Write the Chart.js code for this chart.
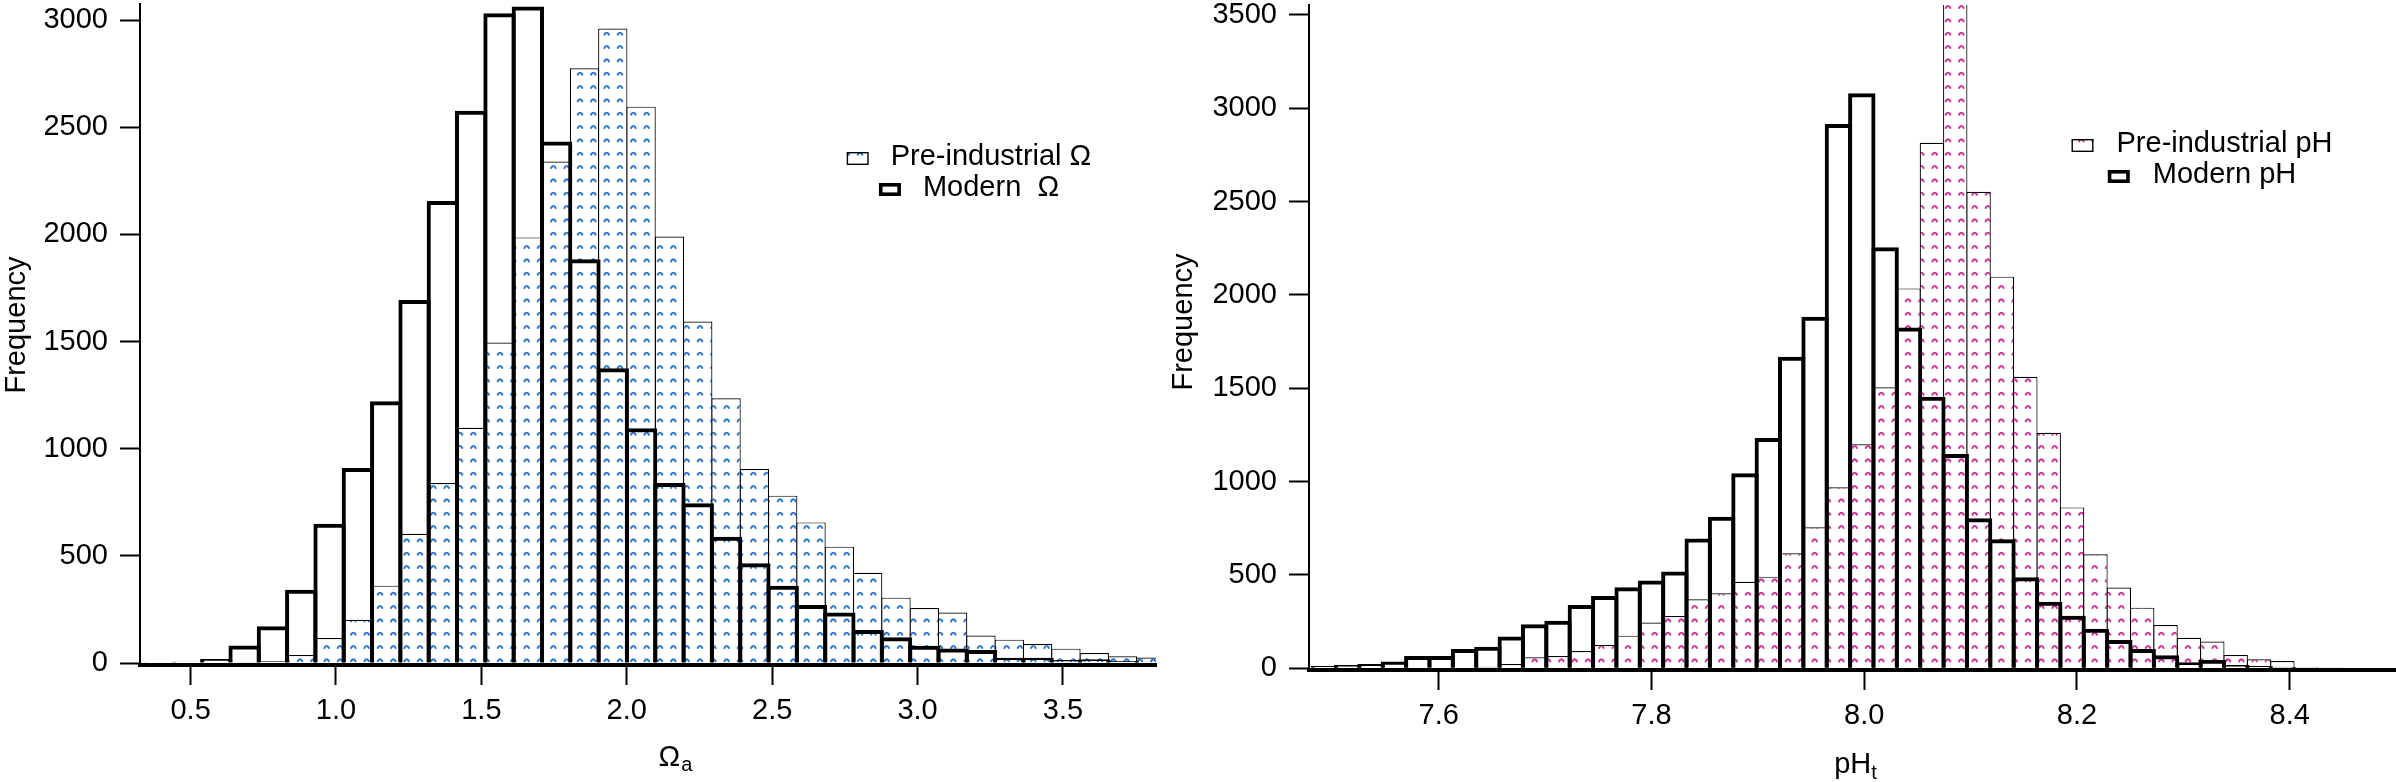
<!DOCTYPE html>
<html><head><meta charset="utf-8">
<script src="https://cdn.jsdelivr.net/npm/chart.js@4.4.1/dist/chart.umd.min.js"></script>
<style>
html,body{margin:0;padding:0;background:#fff;overflow:hidden;}
#wrap{position:relative;width:2396px;height:782px;background:#fff;}
canvas{position:absolute;top:0;}
#cL{left:0;width:1168px;height:782px;}
#cR{left:1168px;width:1228px;height:782px;}
</style></head><body>
<div id="wrap"><canvas id="cL" width="1168" height="782"></canvas><canvas id="cR" width="1228" height="782"></canvas></div>
<script>
// ---------- Data: aragonite saturation state (Omega_a) ----------
const omegaBinCenters = [0.2961,0.3935,0.4909,0.5883,0.6857,0.7831,0.8805,0.9779,1.0753,1.1727,1.2701,1.3675,1.4649,1.5623,1.6597,1.7571,1.8545,1.9519,2.0493,2.1467,2.2441,2.3415,2.4389,2.5363,2.6337,2.7311,2.8285,2.9259,3.0233,3.1207,3.2181,3.3155,3.4129,3.5103,3.6077,3.7051,3.8025];
const omegaPreIndustrial = [0,0,0,1,3,8,37,117,202,361,603,840,1098,1495,1986,2340,2775,2961,2596,1990,1593,1235,905,781,656,543,421,305,257,236,128,109,89,67,47,31,26];
const omegaModern = [3,4,6,19,82,171,342,650,910,1221,1694,2156,2577,3032,3063,2433,1884,1375,1095,840,745,589,465,361,271,236,154,120,81,68,61,25,25,14,17,9,6];
const omegaTickValues = [0.5,1.0,1.5,2.0,2.5,3.0,3.5];
const omegaFreqTicks = [0,500,1000,1500,2000,2500,3000];
const omegaLabels = ['Pre-industrial \u03A9', 'Modern  \u03A9'];
const omegaTitle = ['\u03A9', 'a'];

// ---------- Data: pH (total scale) ----------
const phBinCenters = [7.49239,7.51436,7.53633,7.55830,7.58027,7.60224,7.62421,7.64618,7.66815,7.69012,7.71209,7.73406,7.75603,7.77800,7.79997,7.82194,7.84391,7.86588,7.88785,7.90982,7.93179,7.95376,7.97573,7.99770,8.01967,8.04164,8.06361,8.08558,8.10755,8.12952,8.15149,8.17346,8.19543,8.21740,8.23937,8.26134,8.28331,8.30528,8.32725,8.34922,8.37119,8.39316,8.41513,8.43710,8.45907];
const phPreIndustrial = [0,0,0,0,0,0,3,8,23,59,66,93,125,175,245,280,370,402,464,491,616,755,970,1200,1505,2035,2815,3565,2553,2098,1562,1262,862,611,433,325,232,164,143,71,48,39,6,3,1];
const phModern = [12,18,23,36,66,66,104,116,170,236,255,339,388,434,470,518,696,812,1045,1234,1669,1883,2915,3080,2255,1826,1455,1148,804,691,488,357,282,212,152,104,70,32,45,18,12,8,5,4,3];
const phTickValues = [7.6,7.8,8.0,8.2,8.4];
const phFreqTicks = [0,500,1000,1500,2000,2500,3000,3500];
const phLabels = ['Pre-industrial pH', 'Modern pH'];
const phTitle = ['pH', 't'];
const freqTitle = 'Frequency';

const FAMILY = '"Liberation Sans", Arial, Helvetica, sans-serif';
Chart.defaults.font.family = FAMILY;
Chart.defaults.font.size = 29;
Chart.defaults.color = '#000';

function makePattern(color) {
  const c = document.createElement('canvas');
  c.width = 40; c.height = 40;
  const g = c.getContext('2d');
  g.fillStyle = '#ffffff'; g.fillRect(0, 0, 40, 40);
  g.strokeStyle = color; g.lineWidth = 2.1; g.lineCap = 'round'; g.lineJoin = 'round';
  for (let a = 0; a < 3; a++) for (let b = 0; b < 3; b++) {
    const cx = 6.67 + 13.33 * a, cy = 6.67 + 13.33 * b;
    g.beginPath();
    g.moveTo(cx - 2.3, cy + 1.3);
    g.quadraticCurveTo(cx, cy - 2.6, cx + 2.3, cy + 1.3);
    g.stroke();
  }
  return g.createPattern(c, 'repeat');
}

const histLegend = {
  id: 'histLegend',
  afterDraw(chart, args, o) {
    const ctx = chart.ctx;
    const ds = chart.data.datasets;
    ctx.save();
    ctx.font = o.fontSize + 'px ' + FAMILY;
    ctx.textBaseline = 'alphabetic';
    ctx.textAlign = 'left';
    const lines = [ds[1], ds[0]];
    lines.forEach((d, line) => {
      const tw = ctx.measureText(d.label).width;
      const total = o.boxW + o.gap + tw;
      const x0 = o.cx - total / 2;
      const base = o.baseline + line * o.lineGap;
      const by = base - o.boxH;
      if (line === 0) {
        ctx.fillStyle = d.backgroundColor;
        ctx.fillRect(x0, by, o.boxW, o.boxH);
        ctx.lineWidth = 1.4; ctx.strokeStyle = '#000';
        ctx.strokeRect(x0 + 0.7, by + 0.7, o.boxW - 1.4, o.boxH - 1.4);
      } else {
        ctx.fillStyle = '#fff';
        ctx.fillRect(x0, by, o.boxW, o.boxH);
        ctx.lineWidth = 3.6; ctx.strokeStyle = '#000';
        ctx.strokeRect(x0 + 1.8, by + 1.8, o.boxW - 3.6, o.boxH - 3.6);
      }
      ctx.fillStyle = '#000';
      ctx.fillText(d.label, x0 + o.boxW + o.gap, base);
    });
    ctx.restore();
  }
};

const axisTitles = {
  id: 'axisTitles',
  afterDraw(chart, args, o) {
    const ctx = chart.ctx;
    ctx.save();
    ctx.fillStyle = '#000';
    // x title with subscript
    ctx.textBaseline = 'alphabetic'; ctx.textAlign = 'left';
    const fm = o.size + 'px ' + FAMILY, fs = o.subSize + 'px ' + FAMILY;
    ctx.font = fm; const w1 = ctx.measureText(o.main).width;
    ctx.font = fs; const w2 = ctx.measureText(o.sub).width;
    const x0 = o.cx - (w1 + w2) / 2;
    ctx.font = fm; ctx.fillText(o.main, x0, o.baseline);
    ctx.font = fs; ctx.fillText(o.sub, x0 + w1 + o.subGap, o.baseline + o.subDrop);
    // y title, rotated
    ctx.translate(o.yx, o.yy);
    ctx.rotate(-Math.PI / 2);
    ctx.font = fm; ctx.textAlign = 'center'; ctx.textBaseline = 'alphabetic';
    ctx.fillText(o.yText, 0, 0);
    ctx.restore();
  }
};

function histConfig(p) {
  const pts = (vals) => p.bins.map((x, i) => ({ x: x, y: vals[i] }));
  return {
    type: 'bar',
    data: {
      datasets: [
        { label: p.labels[1], data: pts(p.modern), backgroundColor: 'rgba(0,0,0,0)', borderColor: '#000',
          borderWidth: 4, borderSkipped: 'start', barPercentage: p.modernPct, categoryPercentage: 1, grouped: false, clip: 0 },
        { label: p.labels[0], data: pts(p.pre), backgroundColor: p.pattern, borderColor: '#000',
          borderWidth: 1.2, borderSkipped: 'start', barPercentage: p.prePct, categoryPercentage: 1, grouped: false, clip: 0 }
      ]
    },
    options: {
      responsive: false,
      animation: false,
      events: [],
      layout: { padding: p.padding },
      plugins: {
        legend: { display: false },
        tooltip: { enabled: false },
        histLegend: p.legend,
        axisTitles: p.title
      },
      scales: {
        x: {
          type: 'linear', min: p.xMin, max: p.xMax, offset: false,
          afterBuildTicks: (s) => { s.ticks = p.xTicks.map(v => ({ value: v })); },
          afterFit: (s) => { s.height = p.xAxisH; s.paddingLeft = 0; s.paddingRight = 0; },
          ticks: { padding: 9, maxRotation: 0, autoSkip: false, callback: (v) => Number(v).toFixed(1), font: { size: 29 } },
          grid: { display: true, offset: false, drawOnChartArea: false, drawTicks: true, tickLength: 20, tickWidth: 2, tickColor: '#000', color: '#000' },
          border: { display: true, color: '#000', width: 4 }
        },
        y: {
          type: 'linear', min: p.yMin, max: p.yMax,
          afterBuildTicks: (s) => { s.ticks = p.yTicks.map(v => ({ value: v })); },
          afterFit: (s) => { s.width = p.yAxisW; s.paddingTop = 0; s.paddingBottom = 0; },
          ticks: { padding: 12, autoSkip: false, callback: (v) => String(v), font: { size: 29 } },
          grid: { display: true, drawOnChartArea: false, drawTicks: true, tickLength: 20, tickWidth: 2, tickColor: '#000', color: '#000' },
          border: { display: true, color: '#000', width: 2 },
          title: { display: false }
        }
      }
    },
    plugins: [histLegend, axisTitles]
  };
}

new Chart(document.getElementById('cL'), histConfig({
  bins: omegaBinCenters, pre: omegaPreIndustrial, modern: omegaModern, labels: omegaLabels,
  pattern: makePattern('#2f7bd4'),
  modernPct: 1.141, prePct: 1.035,
  padding: { left: 0, top: 4, right: 12, bottom: 0 },
  xMin: 0.326, xMax: 3.82, yMin: -9.3, yMax: 3075,
  xTicks: omegaTickValues, yTicks: omegaFreqTicks,
  xAxisH: 117, yAxisW: 140,
  legend: { cx: 969, baseline: 165, lineGap: 31, boxW: 22, boxH: 13, gap: 22, fontSize: 29 },
  title: { main: omegaTitle[0], sub: omegaTitle[1], cx: 675, baseline: 766, size: 29, subSize: 20, subGap: 1, subDrop: 5,
           yText: freqTitle, yx: 25, yy: 325 }
}));

new Chart(document.getElementById('cR'), histConfig({
  bins: phBinCenters, pre: phPreIndustrial, modern: phModern, labels: phLabels,
  pattern: makePattern('#d2379d'),
  modernPct: 1.171, prePct: 1.043,
  padding: { left: 0, top: 5, right: 1, bottom: 0 },
  xMin: 7.478, xMax: 8.499, yMin: -9, yMax: 3553,
  xTicks: phTickValues, yTicks: phFreqTicks,
  xAxisH: 112, yAxisW: 141,
  legend: { cx: 1034, baseline: 152, lineGap: 31, boxW: 22, boxH: 13, gap: 23, fontSize: 29 },
  title: { main: phTitle[0], sub: phTitle[1], cx: 687.5, baseline: 773, size: 29, subSize: 20, subGap: 0, subDrop: 6,
           yText: freqTitle, yx: 24, yy: 322 }
}));
</script>
</body></html>
